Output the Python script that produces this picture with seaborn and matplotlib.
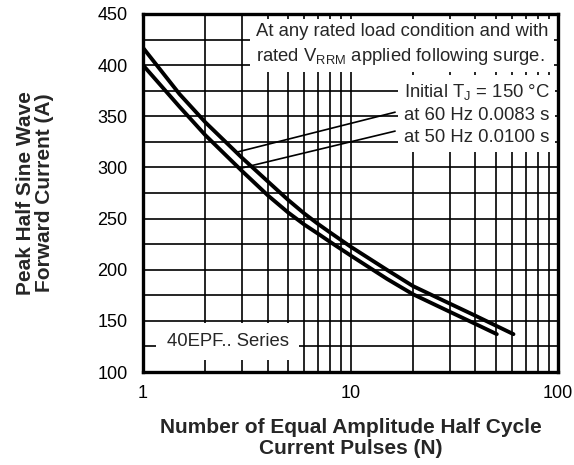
import numpy as np
import pandas as pd
import matplotlib
matplotlib.use("Agg")
import matplotlib.pyplot as plt
from matplotlib.ticker import LogLocator, MultipleLocator, FixedLocator, NullFormatter
import seaborn as sns

# 60 Hz curve (upper)
n_60hz = [1.0, 1.5, 2.0, 3.0, 4.0, 5.0, 6.0, 7.0, 8.0, 10.0, 15.0, 20.0, 30.0, 40.0, 61.0]
i_60hz = [417, 371.7, 344, 309.4, 286.2, 268.3, 254.8, 244.5, 236.2, 222.6, 199.8, 184, 167, 155, 137]
# 50 Hz curve (lower)
n_50hz = [1.0, 1.5, 2.0, 3.0, 4.0, 5.0, 6.0, 7.0, 8.0, 10.0, 15.0, 20.0, 30.0, 40.0, 50.7]
i_50hz = [400, 359.3, 331.4, 296.5, 272.6, 256, 244, 235, 227, 214, 191, 176, 159, 147, 137]

y_ticks = [100, 150, 200, 250, 300, 350, 400, 450]
x_ticks = [1, 10, 100]
x_labels = ["1", "10", "100"]

df = pd.concat([
    pd.DataFrame({"N": n_60hz, "I": i_60hz, "f": "60 Hz"}),
    pd.DataFrame({"N": n_50hz, "I": i_50hz, "f": "50 Hz"}),
])

sns.set_style("white")
plt.rcParams["font.family"] = ["Liberation Sans", "DejaVu Sans"]
plt.rcParams["mathtext.fontset"] = "custom"
plt.rcParams["mathtext.rm"] = "Liberation Sans"

fig = plt.figure(figsize=(5.74, 4.65), dpi=100)
ax = fig.add_axes([143 / 574, 93 / 465, 415 / 574, 358 / 465])

sns.lineplot(data=df, x="N", y="I", units="f", estimator=None, sort=False,
             color="black", linewidth=2.8, ax=ax, zorder=3)

ax.set_xscale("log")
ax.set_xlim(1, 100)
ax.set_ylim(100, 450)
ax.xaxis.set_major_locator(FixedLocator(x_ticks))
ax.set_xticklabels(x_labels)
ax.xaxis.set_minor_locator(LogLocator(base=10, subs=np.arange(2, 10)))
ax.xaxis.set_minor_formatter(NullFormatter())
ax.set_yticks(y_ticks)
ax.yaxis.set_minor_locator(MultipleLocator(25))
ax.grid(True, which="both", color="black", linewidth=1.2)
ax.set_axisbelow(True)
ax.tick_params(which="both", length=0, labelsize=13, pad=11, colors="black")
ax.tick_params(axis="x", pad=9)
for s in ax.spines.values():
    s.set_color("black")
    s.set_linewidth(2.4)
    s.set_zorder(5)

ax.set_xlabel("Number of Equal Amplitude Half Cycle\nCurrent Pulses (N)",
              fontsize=15, fontweight="bold", labelpad=12, linespacing=1.12)
ax.set_ylabel("Peak Half Sine Wave\nForward Current (A)",
              fontsize=15, fontweight="bold", labelpad=31, linespacing=1.05)

ax.text(0.272, 0.975, "At any rated load condition and with\n"
        r"rated V$_\mathregular{RRM}$ applied following surge.",
        transform=ax.transAxes, fontsize=13.3, ha="left", va="top",
        linespacing=1.4, bbox=dict(facecolor="white", edgecolor="none",
                                   boxstyle="square,pad=0.3"), zorder=4)
ax.text(0.628, 0.81, r"Initial T$_\mathregular{J}$ = 150 °C" "\n"
        "at 60 Hz 0.0083 s\nat 50 Hz 0.0100 s",
        transform=ax.transAxes, fontsize=13.3, ha="left", va="top",
        linespacing=1.4, bbox=dict(facecolor="white", edgecolor="none",
                                   boxstyle="square,pad=0.3"), zorder=4)
ax.text(0.057, 0.085, "40EPF.. Series", transform=ax.transAxes, fontsize=13.3,
        ha="left", va="center",
        bbox=dict(facecolor="white", edgecolor="none", boxstyle="square,pad=0.55"),
        zorder=4)

# pointer lines from the labels to the curves
ax.annotate("", xy=(2.84, 315), xytext=(16.4, 354),
            arrowprops=dict(arrowstyle="-", lw=1.2, color="black",
                            shrinkA=0, shrinkB=0), zorder=4)
ax.annotate("", xy=(2.93, 299), xytext=(16.4, 335.5),
            arrowprops=dict(arrowstyle="-", lw=1.2, color="black",
                            shrinkA=0, shrinkB=0), zorder=4)

fig.savefig("out.png", dpi=100)
